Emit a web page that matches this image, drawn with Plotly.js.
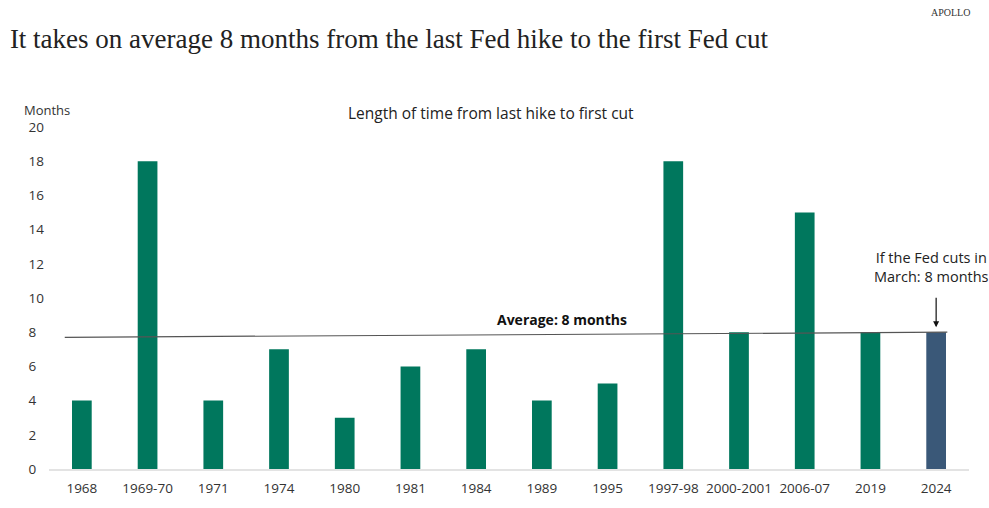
<!DOCTYPE html>
<html>
<head>
<meta charset="utf-8">
<script src="https://cdn.plot.ly/plotly-3.0.1.min.js"></script>
<style>html,body{margin:0;padding:0;background:#fff;}#chart{width:989px;height:508px;}</style>
</head>
<body>
<div id="chart"></div>
<script>
const categories = ["1968","1969-70","1971","1974","1980","1981","1984","1989","1995","1997-98","2000-2001","2006-07","2019","2024"];
const months = [4,18,4,7,3,6,7,4,5,18,8,15,8,8];
const highlight = [false,false,false,false,false,false,false,false,false,false,false,false,false,true];
const avgLineStart = 7.7;
const avgLineEnd = 8;
const avgLabel = "<b>Average: 8 months</b>";
const noteLabel = "If the Fed cuts in<br>March: 8 months";
const yTickVals = [0,2,4,6,8,10,12,14,16,18,20];
const yTickText = yTickVals.map(v => v < 10 ? v + "\u2007" : String(v));

const GREEN = "#00775d";
const NAVY = "#3a5878";
const FONT = "Open Sans, Noto Sans, sans-serif";
const lastIdx = categories.length - 1;

const trace = {
  type: "bar",
  x: categories,
  y: months,
  width: 0.3,
  marker: {color: highlight.map(h => h ? NAVY : GREEN)},
  hoverinfo: "x+y"
};

const layout = {
  width: 989, height: 508,
  margin: {l: 49, r: 20, t: 127, b: 39},
  paper_bgcolor: "#fff", plot_bgcolor: "#fff",
  showlegend: false,
  font: {family: FONT, size: 13, color: "#333"},
  title: {
    text: "It takes on average 8 months from the last Fed hike to the first Fed cut",
    font: {family: "Liberation Serif, serif", size: 27, color: "#222"},
    xref: "container", yref: "container",
    x: 0.010, xanchor: "left", y: 0.925, yanchor: "middle"
  },
  xaxis: {
    type: "category",
    range: [-0.5, 13.5],
    showline: true, linecolor: "#e3e3e3", linewidth: 1.5,
    ticks: "", showgrid: false, zeroline: false,
    tickfont: {family: FONT, size: 13.5, color: "#333"},
    ticklabelstandoff: 6
  },
  yaxis: {
    range: [0, 20],
    tickvals: yTickVals, ticktext: yTickText,
    showgrid: false, zeroline: false, showline: false, ticks: "",
    tickfont: {family: FONT, size: 13.5, color: "#333"},
    ticklabelstandoff: 4
  },
  shapes: [{
    type: "line", xref: "x", yref: "y",
    x0: -0.26, x1: 13.17, y0: avgLineStart, y1: avgLineEnd,
    line: {color: "#555", width: 1.2}
  }],
  annotations: [
    {text: "APOLLO", xref: "paper", yref: "paper", x: 1.003, y: 1.336, xanchor: "right", yanchor: "middle",
     showarrow: false, font: {family: "Liberation Serif, serif", size: 10, color: "#333"}},
    {text: "Months", xref: "paper", yref: "paper", x: -0.029, y: 1.05, xanchor: "left", yanchor: "middle",
     showarrow: false, font: {family: FONT, size: 13, color: "#333"}},
    {text: "Length of time from last hike to first cut", xref: "paper", yref: "paper", x: 0.48, y: 1.04,
     xanchor: "center", yanchor: "middle", showarrow: false, font: {family: FONT, size: 15.5, color: "#222"}},
    {text: avgLabel, xref: "x", yref: "y", x: 7.3, y: avgLineEnd, yshift: 13, xanchor: "center", yanchor: "middle",
     showarrow: false, font: {family: FONT, size: 14, color: "#111"}},
    {text: "", xref: "x", yref: "y", x: lastIdx, y: months[lastIdx],
     ax: 0, ay: -36, showarrow: true, arrowhead: 2, arrowsize: 1, arrowwidth: 1.2, arrowcolor: "#111", standoff: 5},
    {text: noteLabel, xref: "x", yref: "y", x: lastIdx, y: months[lastIdx], yshift: 65, xshift: -5,
     xanchor: "center", yanchor: "middle", showarrow: false,
     font: {family: FONT, size: 14.5, color: "#222"}, align: "center"}
  ]
};

Plotly.newPlot("chart", [trace], layout, {displayModeBar: false});
</script>
</body>
</html>
